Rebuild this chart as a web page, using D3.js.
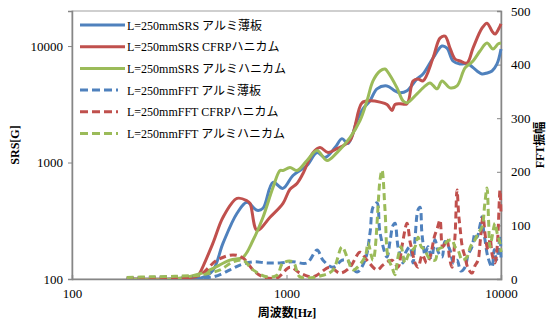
<!DOCTYPE html>
<html><head><meta charset="utf-8">
<script src="https://cdn.jsdelivr.net/npm/d3@7"></script>
<style>
body{margin:0;background:#fff;}
svg text{font-family:"Liberation Serif","Noto Sans CJK JP",serif !important;}
</style></head>
<body><svg id="c" width="553" height="326" font-family="Liberation Serif"></svg>
<script>
const xTicks=[100,1000,10000];
const yLeftTicks=[100,1000,10000];
const yRightTicks=[0,100,200,300,400,500];
const seriesNames=["L=250mmSRS アルミ薄板","L=250mmSRS CFRPハニカム","L=250mmSRS アルミハニカム","L=250mmFFT アルミ薄板","L=250mmFFT CFRPハニカム","L=250mmFFT アルミハニカム"];
const colors=["#4F81BD","#C0504D","#9BBB59","#4F81BD","#C0504D","#9BBB59"];

const srsBlue=[[180,100],[300,100],[400,102],[454,119],[506,203],[588,367],[654,455],[729,389],[777,405],[865,675],[963,600],[1072,774],[1246,943],[1388,1217],[1512,1103],[1683,1343],[1814,1604],[1935,1454],[2132,2286],[2273,2893],[2451,3388],[2642,4291],[2941,4550],[3205,4125],[3382,3966],[3646,4125],[4059,5224],[4329,5763],[4820,7895],[5308,10000],[5602,9614],[5973,7443],[6439,7019],[7019,7019],[7730,6113],[8155,5763],[8604,5877],[9079,6113],[9581,7019],[10000,9427]];
const srsRed=[[180,100],[300,100],[383,104],[395,113],[454,203],[506,339],[588,492],[654,470],[676,446],[729,262],[838,339],[963,446],[1038,590],[1119,661],[1194,805],[1329,1217],[1433,1343],[1562,1217],[1720,1317],[1977,1542],[2249,3257],[2451,3388],[2729,3300],[2941,3150],[3103,2800],[3205,3150],[3382,3194],[3646,3194],[3889,5022],[4104,5224],[4329,5022],[4820,7895],[5195,11703],[5482,12174],[5784,9614],[6103,7743],[6439,7443],[6943,7156],[7405,9614],[8155,14249],[8604,15724],[9079,13433],[9376,12664],[9893,14825],[10000,15500]];
const srsGreen=[[180,100],[300,100],[408,113],[545,145],[627,154],[698,215],[777,339],[865,611],[933,854],[963,854],[1038,907],[1119,854],[1246,1040],[1388,1266],[1545,1040],[1720,1217],[1977,1636],[2201,2286],[2373,3388],[2531,5022],[2729,6113],[2879,6358],[2941,6113],[3275,4375],[3492,3388],[3646,3257],[4059,3889],[4329,4375],[4667,4829],[5031,4291],[5308,5022],[5784,4375],[6236,4550],[6796,6486],[7405,7443],[7983,9066],[8604,10607],[9177,9427],[9684,10402],[10000,10607]];
const fftBlue=[[180,2],[231,3],[302,4],[355,4],[454,4],[545,17],[607,26],[698,32],[811,30],[933,30],[1072,32],[1246,30],[1388,54],[1480,35],[1648,22],[1814,35],[1915,35],[2132,13],[2323,35],[2451,86],[2531,134],[2642,142],[2729,86],[2941,41],[3037,70],[3137,100],[3205,104],[3275,75],[3310,60],[3420,40],[3492,30],[3600,50],[3765,60],[3889,30],[3973,75],[4104,129],[4193,134],[4270,90],[4329,67],[4423,45],[4567,60],[4750,40],[4924,73],[5100,50],[5308,41],[5480,70],[5784,54],[6000,30],[6236,35],[6500,15],[6796,22],[7019,45],[7326,60],[7566,85],[7730,78],[7983,100],[8155,116],[8300,90],[8421,73],[8700,40],[9079,22],[9300,55],[9500,35],[9684,48],[9893,80],[10000,40]];
const fftRed=[[180,2],[231,2],[302,3],[355,3],[395,7],[474,35],[563,45],[627,39],[698,17],[777,4],[903,2],[1038,22],[1156,11],[1329,4],[1595,22],[1776,11],[1977,22],[2201,50],[2373,35],[2642,17],[2818,26],[3103,35],[3310,22],[3450,60],[3646,104],[3765,70],[3847,54],[3973,30],[4104,22],[4300,45],[4500,30],[4667,41],[4900,80],[5050,95],[5195,110],[5350,60],[5602,73],[5750,40],[5910,22],[6103,80],[6236,166],[6350,120],[6439,97],[6600,60],[6796,41],[7019,20],[7326,11],[7566,25],[7814,35],[8000,70],[8244,116],[8450,80],[8697,54],[8900,75],[9100,45],[9376,30],[9600,60],[9893,166],[10000,120]];
const fftGreen=[[180,3],[231,4],[302,5],[355,6],[395,7],[490,17],[563,32],[627,35],[698,17],[811,4],[903,7],[963,30],[1072,32],[1156,4],[1480,7],[1648,17],[1814,60],[1915,41],[2042,17],[2323,41],[2399,67],[2531,35],[2729,185],[2788,203],[2879,129],[2973,41],[3103,22],[3205,8],[3310,41],[3420,60],[3568,30],[3700,45],[3973,60],[4104,78],[4250,60],[4423,54],[4600,40],[4924,35],[5100,55],[5366,60],[5600,70],[5910,73],[6100,60],[6302,54],[6600,35],[6943,41],[7200,60],[7566,73],[7800,85],[8155,97],[8400,140],[8604,170],[8750,110],[8885,60],[9100,80],[9376,104],[9600,85],[9893,67],[10000,50]];

const L=72,R=501,T=11,B=279;
const svg=d3.select("#c");
const x=d3.scaleLog().domain([100,10000]).range([L,R]);
const yL=d3.scaleLog().domain([100,20000]).range([B,T]);
const yR=d3.scaleLinear().domain([0,500]).range([B,T]);

svg.append("defs").append("clipPath").attr("id","clip").append("rect").attr("x",L).attr("y",T-4).attr("width",R-L+2).attr("height",B-T+4);

svg.append("rect").attr("x",L).attr("y",T).attr("width",R-L).attr("height",B-T).attr("fill","none").attr("stroke","#a0a0a0").attr("stroke-width",1);

const ax=svg.append("g").attr("transform",`translate(0,${B})`).call(d3.axisBottom(x).tickValues(xTicks).tickFormat(d3.format("d")).tickSize(-4).tickPadding(10));
const al=svg.append("g").attr("transform",`translate(${L},0)`).call(d3.axisLeft(yL).tickValues(yLeftTicks).tickFormat(d3.format("d")).tickSize(4).tickPadding(5));
const ar=svg.append("g").attr("transform",`translate(${R},0)`).call(d3.axisRight(yR).tickValues(yRightTicks).tickSize(-4).tickPadding(10));
[ax,al,ar].forEach(g=>{
  g.attr("font-family","Liberation Serif");
  g.select(".domain").attr("stroke","#868686").attr("stroke-width",1.5);
  g.selectAll(".tick line").attr("stroke","#868686");
  g.selectAll(".tick text").attr("font-size","13px").attr("fill","#000");
});

const line=(ys)=>d3.line().x(d=>x(d[0])).y(d=>ys(d[1])).curve(d3.curveCatmullRom.alpha(0.5));
const plot=svg.append("g").attr("clip-path","url(#clip)");
const srs=[srsBlue,srsRed,srsGreen], fft=[fftBlue,fftRed,fftGreen];
srs.forEach((s,i)=>plot.append("path").datum(s).attr("d",line(yL)).attr("fill","none").attr("stroke",colors[i]).attr("stroke-width",3).attr("stroke-linejoin","round"));
fft.forEach((s,i)=>plot.append("path").datum(s).attr("d",line(yR)).attr("fill","none").attr("stroke",colors[i+3]).attr("stroke-width",3).attr("stroke-dasharray","7,4"));

const lg=svg.append("g");
seriesNames.forEach((n,i)=>{
  const yy=25+i*21.7;
  lg.append("line").attr("x1",80).attr("x2",i<3?125:118).attr("y1",yy).attr("y2",yy).attr("stroke",colors[i]).attr("stroke-width",3).attr("stroke-dasharray",i<3?null:"8,4");
  lg.append("text").attr("x",127).attr("y",yy+4.5).attr("font-size","12px").attr("fill","#000").text(n);
});

svg.append("text").attr("transform","translate(19,145) rotate(-90)").attr("text-anchor","middle").attr("font-weight","bold").attr("font-size","12px").text("SRS[G]");
svg.append("text").attr("transform","translate(544,145) rotate(-90)").attr("text-anchor","middle").attr("font-weight","bold").attr("font-size","12px").text("FFT振幅");
svg.append("text").attr("x",287).attr("y",317).attr("text-anchor","middle").attr("font-weight","bold").attr("font-size","12px").text("周波数[Hz]");
</script></body></html>
